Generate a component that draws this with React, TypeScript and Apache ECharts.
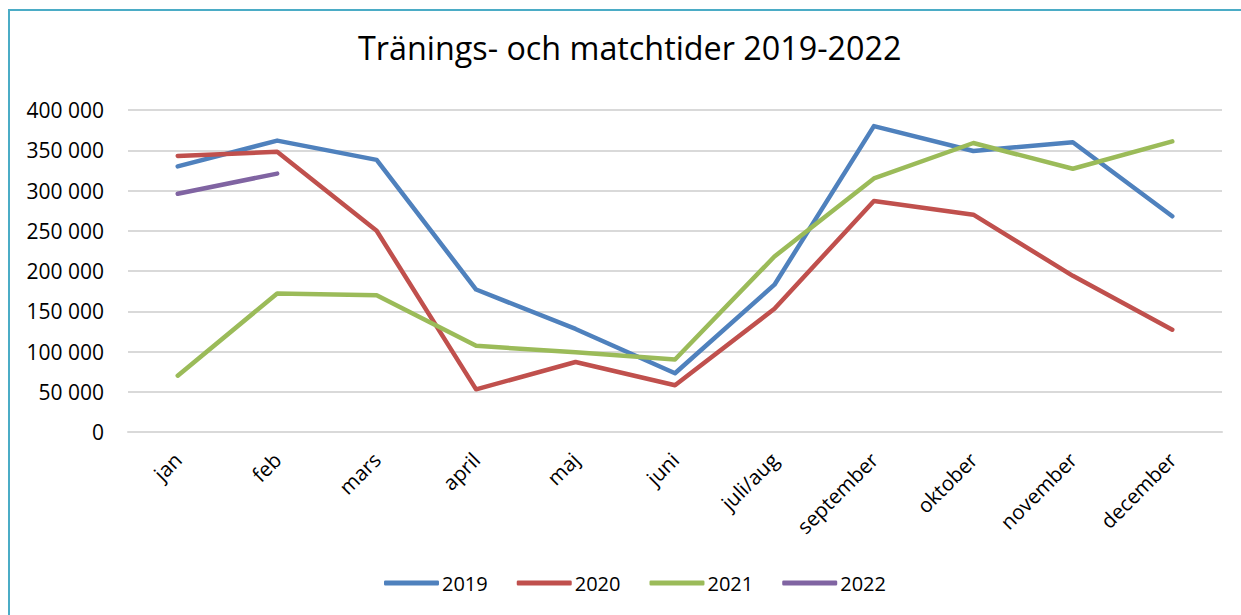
import React, { useEffect, useRef } from "react";
import * as echarts from "echarts";

const categories = ["jan", "feb", "mars", "april", "maj", "juni", "juli/aug", "september", "oktober", "november", "december"];
const s2019 = [330000, 362000, 338000, 177000, 128000, 73000, 183000, 380000, 349000, 360000, 268000];
const s2020 = [343000, 348000, 250000, 53000, 87000, 58000, 153000, 287000, 270000, 194000, 127000];
const s2021 = [70000, 172000, 170000, 107000, 99000, 90000, 218000, 315000, 359000, 327000, 361000];
const s2022 = [296000, 321000, null, null, null, null, null, null, null, null, null];
const seriesNames = ["2019", "2020", "2021", "2022"];
const colors = ["#4F81BD", "#C0504D", "#9BBB59", "#8064A2"];
const yTicks = { min: 0, max: 400000, interval: 50000 };

const FONT = "'Open Sans', 'Noto Sans', sans-serif";

export default function App() {
  const ref = useRef<HTMLDivElement>(null);
  useEffect(() => {
    if (!ref.current) return;
    const chart = echarts.init(ref.current, null, { renderer: "svg" });
    const data = [s2019, s2020, s2021, s2022];
    chart.setOption({
      animation: false,
      backgroundColor: "#fff",
      color: colors,
      title: {
        text: "Tränings- och matchtider 2019-2022",
        left: 353,
        top: 26,
        textStyle: { fontFamily: FONT, fontSize: 32.3, fontWeight: "normal", color: "#000" },
      },
      legend: {
        bottom: 17,
        left: 379,
        itemWidth: 55,
        itemHeight: 5,
        itemGap: 29,
        icon: "roundRect",
        textStyle: { fontFamily: FONT, fontSize: 20, color: "#000", padding: [0, 0, 0, -2] },
        data: seriesNames,
      },
      grid: { left: 128, right: 19, top: 110, bottom: 183, containLabel: false },
      xAxis: {
        type: "category",
        data: categories,
        boundaryGap: true,
        axisLine: { show: true, lineStyle: { color: "#D9D9D9", width: 2 } },
        axisTick: { show: false },
        axisLabel: {
          rotate: 45,
          interval: 0,
          margin: 24,
          fontFamily: FONT,
          fontSize: 20.5,
          color: "#000",
        },
      },
      yAxis: {
        type: "value",
        min: yTicks.min,
        max: yTicks.max,
        interval: yTicks.interval,
        axisLine: { show: false },
        axisTick: { show: false },
        splitLine: { lineStyle: { color: "#D9D9D9", width: 2 } },
        axisLabel: {
          margin: 24,
          fontFamily: FONT,
          fontSize: 21,
          color: "#000",
          formatter: (v: number) => {
            const s = String(v);
            return s.replace(/\B(?=(\d{3})+(?!\d))/g, " ");
          },
        },
      },
      series: seriesNames.map((n, i) => ({
        name: n,
        type: "line",
        data: data[i],
        symbol: "none",
        lineStyle: { width: 4.5, color: colors[i], cap: "round", join: "round" },
        itemStyle: { color: colors[i] },
      })),
      graphic: [
        {
          type: "rect",
          shape: { x: 9, y: 10, width: 1300, height: 700 },
          style: { fill: "none", stroke: "#4BACC6", lineWidth: 2 },
          silent: true,
        },
      ],
    });
    return () => chart.dispose();
  }, []);
  return <div ref={ref} style={{ position: "absolute", left: 0, top: 0, width: 1241, height: 615 }} />;
}
